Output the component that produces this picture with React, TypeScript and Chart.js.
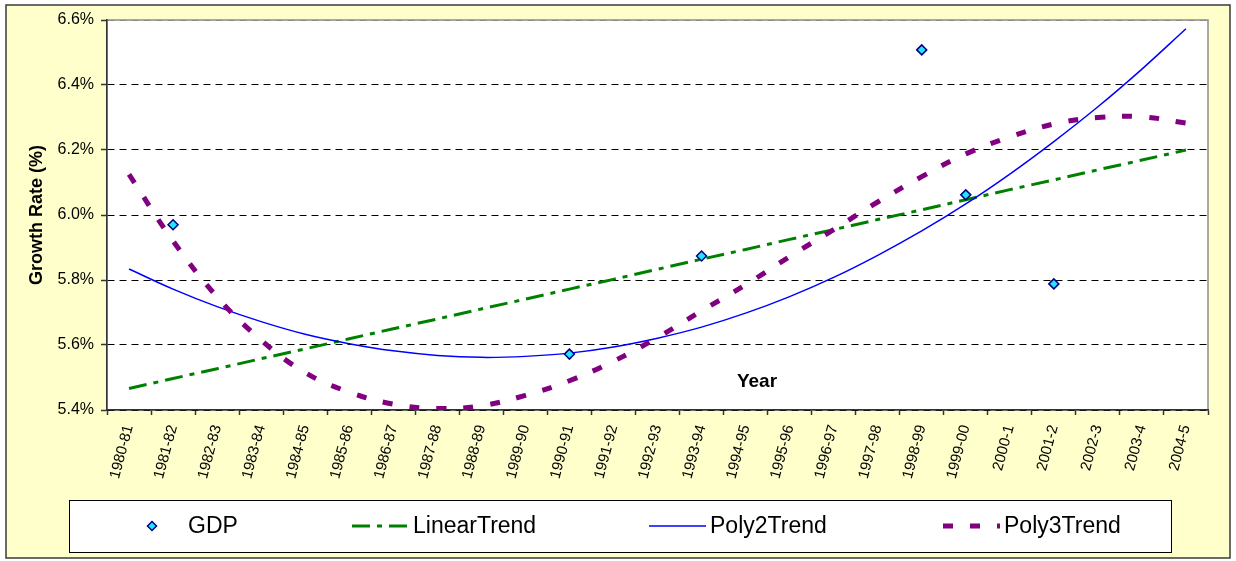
import React, { useEffect, useRef } from 'react';
import { Chart, registerables } from 'chart.js';

Chart.register(...registerables);

const categories = [
  '1980-81', '1981-82', '1982-83', '1983-84', '1984-85', '1985-86', '1986-87',
  '1987-88', '1988-89', '1989-90', '1990-91', '1991-92', '1992-93', '1993-94',
  '1994-95', '1995-96', '1996-97', '1997-98', '1998-99', '1999-00', '2000-1',
  '2001-2', '2002-3', '2003-4', '2004-5',
];

const gdp = [
  null, 5.97, null, null, null, null, null, null, null, null, 5.572, null, null,
  5.874, null, null, null, null, 6.508, 6.062, null, 5.788, null, null, null,
];

const linearTrend = [
  5.466, 5.497, 5.527, 5.558, 5.588, 5.619, 5.65, 5.68, 5.711, 5.741, 5.772,
  5.802, 5.833, 5.864, 5.894, 5.925, 5.955, 5.986, 6.016, 6.047, 6.078, 6.108,
  6.139, 6.169, 6.2,
];

const poly2Trend = [
  5.834, 5.772, 5.718, 5.672, 5.633, 5.604, 5.582, 5.568, 5.562, 5.565, 5.575,
  5.594, 5.621, 5.655, 5.698, 5.749, 5.808, 5.876, 5.951, 6.034, 6.126, 6.226,
  6.333, 6.449, 6.573,
];

const poly3Trend = [
  6.125, 5.92, 5.748, 5.615, 5.515, 5.455, 5.418, 5.405, 5.413, 5.445, 5.49,
  5.55, 5.623, 5.705, 5.785, 5.872, 5.955, 6.04, 6.118, 6.188, 6.24, 6.28,
  6.3, 6.302, 6.283,
];

const seriesLabels = ['GDP', 'LinearTrend', 'Poly2Trend', 'Poly3Trend'];
const yMin = 5.4;
const yMax = 6.6;
const yStep = 0.2;
const yAxisTitle = 'Growth Rate (%)';
const xAxisTitle = 'Year';

const FONT = "'Liberation Sans', Arial, Helvetica, sans-serif";

const backgroundPlugin = {
  id: 'excelBackground',
  beforeDraw(chart: any) {
    const { ctx, chartArea } = chart;
    ctx.save();
    ctx.fillStyle = '#ffffff';
    ctx.fillRect(0, 0, chart.width, chart.height);
    ctx.fillStyle = '#FFFFCC';
    ctx.fillRect(6, 5, 1224, 553);
    ctx.strokeStyle = '#3a3a3a';
    ctx.lineWidth = 1.5;
    ctx.strokeRect(6, 5, 1224, 553);
    ctx.fillStyle = '#ffffff';
    ctx.fillRect(chartArea.left, chartArea.top, chartArea.right - chartArea.left, chartArea.bottom - chartArea.top);
    ctx.strokeStyle = '#8c8c8c';
    ctx.lineWidth = 1.5;
    ctx.strokeRect(chartArea.left, chartArea.top, chartArea.right - chartArea.left, chartArea.bottom - chartArea.top);
    ctx.restore();
  },
};

const overlayPlugin = {
  id: 'excelOverlay',
  afterDraw(chart: any) {
    const { ctx, chartArea } = chart;
    ctx.save();
    // "Year" axis title placed inside the plot area as in the original
    ctx.font = `bold 19px ${FONT}`;
    ctx.fillStyle = '#000';
    ctx.textAlign = 'center';
    ctx.textBaseline = 'middle';
    ctx.fillText(xAxisTitle, chartArea.left + 650, chartArea.bottom - 28);

    // Legend box
    const lx = 69, ly = 500, lw = 1102, lh = 52;
    ctx.fillStyle = '#ffffff';
    ctx.fillRect(lx, ly, lw, lh);
    ctx.strokeStyle = '#000';
    ctx.lineWidth = 1;
    ctx.strokeRect(lx + 0.5, ly + 0.5, lw, lh);

    const cy = ly + 26;
    const starts = [152, 352, 649, 943];
    const ds = chart.data.datasets;
    ctx.font = `23px ${FONT}`;
    ctx.textAlign = 'left';
    ctx.textBaseline = 'middle';
    ds.forEach((d: any, i: number) => {
      const sx = starts[i];
      if (i === 0) {
        ctx.beginPath();
        const r = 4.5;
        ctx.moveTo(sx, cy - r);
        ctx.lineTo(sx + r, cy);
        ctx.lineTo(sx, cy + r);
        ctx.lineTo(sx - r, cy);
        ctx.closePath();
        ctx.fillStyle = d.pointBackgroundColor;
        ctx.fill();
        ctx.strokeStyle = d.pointBorderColor;
        ctx.lineWidth = 1.5;
        ctx.setLineDash([]);
        ctx.stroke();
        ctx.fillStyle = '#000';
        ctx.fillText(d.label, sx + 36, cy + 1);
      } else {
        ctx.beginPath();
        ctx.strokeStyle = d.borderColor;
        ctx.lineWidth = d.borderWidth;
        ctx.setLineDash(d.borderDash || []);
        ctx.lineCap = 'butt';
        ctx.moveTo(sx, cy);
        ctx.lineTo(sx + 57, cy);
        ctx.stroke();
        ctx.setLineDash([]);
        ctx.fillStyle = '#000';
        ctx.fillText(d.label, sx + 61, cy + 1);
      }
    });
    ctx.restore();
  },
};

export default function App() {
  const canvasRef = useRef<HTMLCanvasElement | null>(null);

  useEffect(() => {
    if (!canvasRef.current) return;
    Chart.defaults.font.family = FONT;
    const chart = new Chart(canvasRef.current, {
      type: 'line',
      data: {
        labels: categories,
        datasets: [
          {
            label: seriesLabels[0],
            data: gdp,
            showLine: false,
            pointStyle: 'rectRot',
            pointRadius: 5,
            pointBorderWidth: 1.5,
            pointBackgroundColor: '#22E6FF',
            pointBorderColor: '#000080',
            borderColor: '#000080',
            backgroundColor: '#22E6FF',
            order: 0,
          },
          {
            label: seriesLabels[1],
            data: linearTrend,
            borderColor: '#008000',
            borderWidth: 3,
            borderDash: [18, 7, 5, 7],
            pointRadius: 0,
            tension: 0,
            fill: false,
            order: 3,
          },
          {
            label: seriesLabels[2],
            data: poly2Trend,
            borderColor: '#0000FF',
            borderWidth: 1.5,
            pointRadius: 0,
            tension: 0.4,
            fill: false,
            order: 2,
          },
          {
            label: seriesLabels[3],
            data: poly3Trend,
            borderColor: '#800080',
            borderWidth: 5,
            borderDash: [10, 17],
            borderCapStyle: 'butt',
            pointRadius: 0,
            tension: 0.4,
            fill: false,
            order: 1,
          },
        ],
      },
      options: {
        animation: false,
        responsive: false,
        devicePixelRatio: 1,
        layout: { padding: { left: 0, top: 20, right: 28, bottom: 0 } },
        plugins: {
          legend: { display: false },
          tooltip: { enabled: false },
        },
        scales: {
          x: {
            offset: true,
            grid: {
              offset: true,
              drawOnChartArea: false,
              drawTicks: true,
              tickLength: 5,
              tickColor: '#333333',
              tickWidth: 1.5,
            },
            border: { display: true, color: '#333333', width: 1.5 },
            ticks: {
              autoSkip: false,
              maxRotation: 75,
              minRotation: 75,
              padding: 8,
              color: '#000',
              font: { size: 15, family: FONT },
            },
            afterFit(scale: any) {
              scale.height = 151;
            },
          },
          y: {
            min: yMin,
            max: yMax,
            ticks: {
              stepSize: yStep,
              padding: 7,
              color: '#000',
              font: { size: 16, family: FONT },
              callback: (v: any) => Number(v).toFixed(1) + '%',
            },
            grid: {
              color: (c: any) => (c.tick && Math.abs(c.tick.value - yMax) < 1e-6 ? '#8c8c8c' : '#000000'),
              lineWidth: 1,
              tickLength: 6,
              tickColor: '#333333',
              tickWidth: 1.5,
              tickBorderDash: [],
            },
            border: { display: true, color: '#333333', width: 1.5, dash: [7, 5] },
            title: {
              display: true,
              text: yAxisTitle,
              color: '#000',
              font: { size: 18, weight: 'bold', family: FONT },
              padding: { top: 26, bottom: 0 },
            },
            afterFit(scale: any) {
              scale.width = 107;
            },
          },
        },
      },
      plugins: [backgroundPlugin, overlayPlugin],
    } as any);
    return () => chart.destroy();
  }, []);

  return (
    <div style={{ position: 'absolute', left: 0, top: 0, width: 1236, height: 561 }}>
      <canvas ref={canvasRef} width={1236} height={561} style={{ display: 'block', width: 1236, height: 561 }} />
    </div>
  );
}
